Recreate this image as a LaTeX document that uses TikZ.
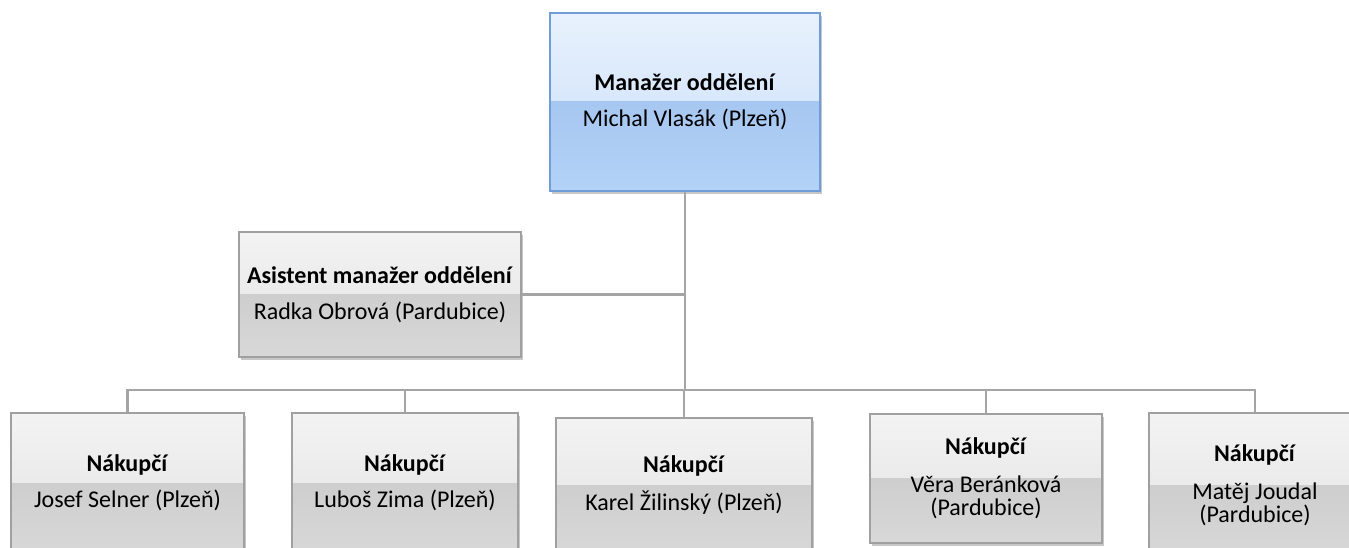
\documentclass[tikz,border=0pt]{standalone}
\usepackage{fontspec}
\setmainfont{Carlito}
\usepackage{tikz}
\usetikzlibrary{shadows}

\definecolor{bltop}{RGB}{232,241,253}
\definecolor{blmid}{RGB}{200,222,248}
\definecolor{bllow}{RGB}{166,199,241}
\definecolor{blbot}{RGB}{180,210,247}
\definecolor{blline}{RGB}{110,157,216}
\definecolor{grtop}{RGB}{243,243,243}
\definecolor{grmid}{RGB}{226,226,226}
\definecolor{grlow}{RGB}{206,206,206}
\definecolor{grbot}{RGB}{216,216,216}
\definecolor{grline}{RGB}{160,160,160}
\definecolor{linkgray}{RGB}{165,165,165}

\begin{document}
\begin{tikzpicture}[x=1pt, y=-1pt]

	\tikzstyle{every node}=[font=\fontsize{24}{23}\selectfont] %Calibri
	\tikzstyle{box} = [draw=#1line, line width=1.5pt, align=center, inner sep=0pt,
		drop shadow={shadow xshift=1.5pt, shadow yshift=-3pt, fill=black, opacity=.22},
		path picture={
			\shade[top color=#1top, bottom color=#1mid] (path picture bounding box.north west) rectangle (path picture bounding box.east);
			\shade[top color=#1low, bottom color=#1bot] (path picture bounding box.west) rectangle (path picture bounding box.south east);
		}]
	\tikzstyle{link} = [draw=linkgray, line width=2.5pt]

	\useasboundingbox (0,0) rectangle (1349,548);
	\clip (0,0) rectangle (1349,548);

	\node[box=bl, minimum width=270pt, minimum height=178pt] (mgr)  at (685,102)   {\textbf{Manažer oddělení}\\[13pt]Michal Vlasák (Plzeň)};
	\node[box=gr, minimum width=282pt, minimum height=125pt] (asst) at (380,294.5) {\textbf{Asistent manažer oddělení}\\[13pt]Radka Obrová (Pardubice)};

	\node[box=gr, minimum width=233pt, minimum height=140pt] (buy1) at (127.5,483) {\textbf{Nákupčí}\\[13pt]Josef Selner (Plzeň)};
	\node[box=gr, minimum width=226pt, minimum height=140pt] (buy2) at (405,483)   {\textbf{Nákupčí}\\[13pt]Luboš Zima (Plzeň)};
	\node[box=gr, minimum width=256pt, minimum height=134pt] (buy3) at (684,485)   {\textbf{Nákupčí}\\[13pt]Karel Žilinský (Plzeň)};
	\node[box=gr, minimum width=232pt, minimum height=129pt] (buy4) at (986,478.5) {\textbf{Nákupčí}\\[15pt]Věra Beránková\\(Pardubice)};
	\node[box=gr, minimum width=212pt, minimum height=144pt] (buy5) at (1255,485)  {\textbf{Nákupčí}\\[15pt]Matěj Joudal\\(Pardubice)};

	\coordinate (bus) at (685,390);

	\draw[link] (mgr.south)  -- (bus);
	\draw[link] (asst.east)  -- (asst.east -| bus);
	\draw[link] (buy1.north) |- (bus) -| (buy5.north);
	\draw[link] (buy2.north) -- (buy2.north |- bus);
	\draw[link] (buy3.north) -- (buy3.north |- bus);
	\draw[link] (buy4.north) -- (buy4.north |- bus);

\end{tikzpicture}
\end{document}
